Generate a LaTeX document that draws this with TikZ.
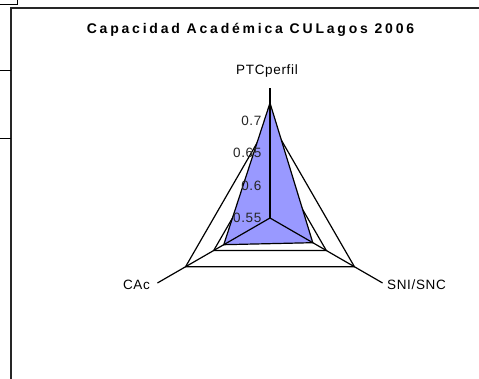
\documentclass[tikz,border=0pt]{standalone}
\usepackage{fontspec}
\setmainfont{Liberation Sans}
\newfontfamily\titlefont[LetterSpace=20]{Liberation Sans}
\newfontfamily\labelfont[LetterSpace=5]{Liberation Sans}
\usetikzlibrary{positioning,calc}

\definecolor{serie}{RGB}{153,153,255}

\begin{document}
\begin{tikzpicture}[
        x=1pt, y=1pt,
        every node/.style={inner sep=0pt, align=center},
        every path/.style={line width=1.2pt},
        grid/.style={draw=black, line join=miter},
        axislabel/.style={font=\labelfont\fontsize{13.5}{16}\selectfont},
        ticklabel/.style={anchor=east, text=black!85, font=\labelfont\fontsize{13.5}{16}\selectfont}
    ]
    \useasboundingbox (0,0) rectangle (479,379);

    % Frame
    \draw[line width=1.3pt, black!85] (11,-10) -- (11,371) -- (490,371);
    \draw[line width=1pt] (0,374.5) -- (17,374.5) -- (17,379);
    \draw[line width=1pt] (0,308.5) -- (11,308.5);
    \draw[line width=1pt] (0,240) -- (11,240);

    % Nodes
    \coordinate (c) at (270,161);
    \coordinate (top) at ($(c)+(90:130)$);
    \coordinate (left) at ($(c)+(210:130)$);
    \coordinate (right) at ($(c)+(330:130)$);

    \node (title) at (250.5,349) {\titlefont\bfseries\fontsize{14}{16}\selectfont Capacidad Académica CULagos 2006};
    \node[axislabel] (ptc) at (267,308) {PTCperfil};
    \node[axislabel, anchor=east] (cac) at (150.5,94) {CAc};
    \node[axislabel, anchor=west] (sni) at (386.5,94) {SNI/SNC};

    % Grid
    \draw[grid] ($(c)+(90:97.5)$) -- ($(c)+(210:97.5)$) -- ($(c)+(330:97.5)$) -- cycle;
    \draw[grid] ($(c)+(90:65)$) -- ($(c)+(210:65)$) -- ($(c)+(330:65)$) -- cycle;

    % Data
    \draw[grid, fill=serie] ($(c)+(90:115)$) -- ($(c)+(210:53.4)$) -- ($(c)+(330:49.4)$) -- cycle;

    % Edges
    \draw (c) -- (top);
    \draw (c) -- (left);
    \draw (c) -- (right);

    \node[ticklabel] (t70) at (262,258.5) {0.7};
    \node[ticklabel] (t65) at (262,226) {0.65};
    \node[ticklabel] (t60) at (262,193.5) {0.6};
    \node[ticklabel] (t55) at (262,161) {0.55};
\end{tikzpicture}
\end{document}
